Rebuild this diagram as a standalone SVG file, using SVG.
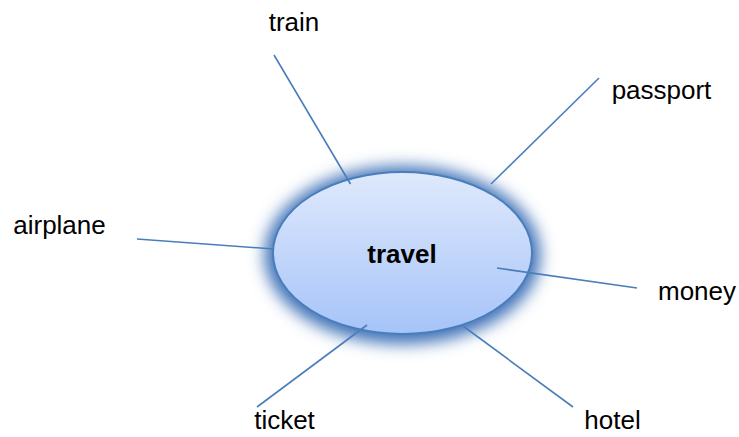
<svg xmlns="http://www.w3.org/2000/svg" width="739" height="437" viewBox="0 0 739 437">
<style>
.lbl{font-family:"Liberation Sans",Arial,sans-serif;font-size:26px;fill:#000;text-anchor:middle}
.ctr{font-family:"Liberation Sans",Arial,sans-serif;font-size:26px;font-weight:bold;fill:#000;text-anchor:middle}
.conn line{stroke:#4a7ebb;stroke-width:1.6;fill:none}
</style>
<defs>
<linearGradient id="fillg" x1="0" y1="0" x2="0" y2="1">
<stop offset="0" stop-color="#dfe9fc"/>
<stop offset="1" stop-color="#a6c4f9"/>
</linearGradient>
<filter id="glow" x="-30%" y="-30%" width="160%" height="160%">
<feGaussianBlur stdDeviation="8"/>
</filter>
</defs>
<rect width="739" height="437" fill="#fff"/>
<g id="travel">
<ellipse cx="402.5" cy="255" rx="138" ry="89" fill="#3f72b8" filter="url(#glow)"/>
<ellipse cx="402.5" cy="253" rx="129.5" ry="81" fill="url(#fillg)" stroke="#4a7ebb" stroke-width="2"/>
</g>
<g class="conn" id="connectors">
<line x1="274" y1="55" x2="350.5" y2="184"/>
<line x1="599" y1="78" x2="491" y2="184"/>
<line x1="137" y1="239" x2="274" y2="249"/>
<line x1="497" y1="268" x2="637" y2="288"/>
<line x1="367" y1="325" x2="257" y2="407"/>
<line x1="463" y1="326" x2="573" y2="407"/>
</g>
<text class="ctr" x="402" y="263">travel</text>
<g id="train"><text class="lbl" x="294" y="31">train</text></g>
<g id="passport"><text class="lbl" x="661.5" y="99">passport</text></g>
<g id="airplane"><text class="lbl" x="59.5" y="234">airplane</text></g>
<g id="money"><text class="lbl" x="697" y="300">money</text></g>
<g id="ticket"><text class="lbl" x="284.5" y="429">ticket</text></g>
<g id="hotel"><text class="lbl" x="612.5" y="429">hotel</text></g>
</svg>
